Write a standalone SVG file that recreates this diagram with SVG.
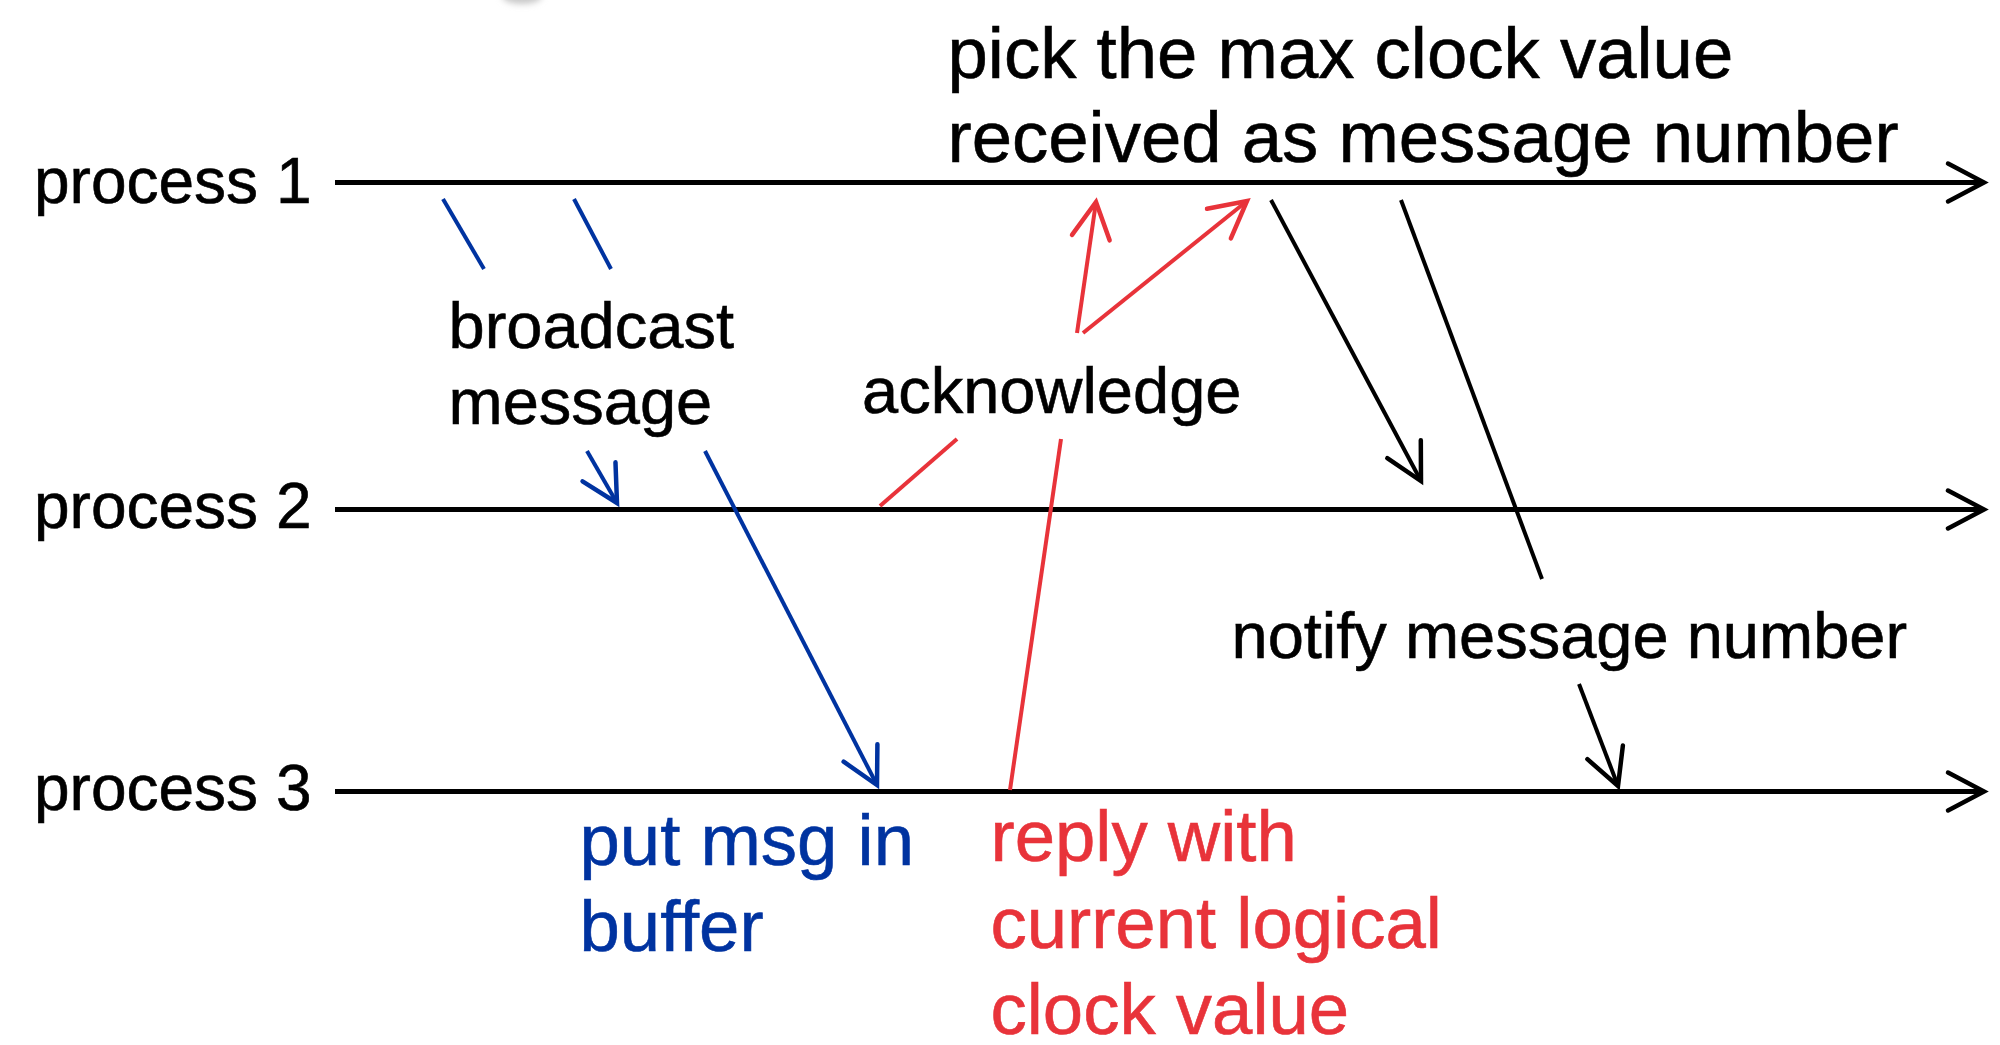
<svg xmlns="http://www.w3.org/2000/svg" width="2000" height="1045" viewBox="0 0 2000 1045">
<style>
text{font-family:"Liberation Sans",Arial,sans-serif;stroke-width:0.6;}
.lbl{font-size:64px;fill:#000;stroke:#000;}
.mid{font-size:65px;}
.big{font-size:72.5px;}
.blk{fill:#000;stroke:#000;}
.blu{fill:#0033A0;stroke:#0033A0;}
.red{fill:#E8333A;stroke:#E8333A;}
.tl{stroke:#000;stroke-width:5;fill:none;}
.cb{stroke:#0033A0;stroke-width:4;fill:none;}
.cr{stroke:#E8333A;stroke-width:4;fill:none;}
.ck{stroke:#000;stroke-width:4;fill:none;}
</style>
<defs>
<filter id="blur" x="-50%" y="-50%" width="200%" height="200%"><feGaussianBlur stdDeviation="3"/></filter>
<marker id="ak" markerUnits="userSpaceOnUse" orient="auto" overflow="visible" markerWidth="1" markerHeight="1" refX="0" refY="0"><path d="M-36,-19 L0,0 L-36,19" fill="none" stroke="#000" stroke-width="4.5" stroke-linecap="round" stroke-linejoin="miter"/></marker>
<marker id="ab" markerUnits="userSpaceOnUse" orient="auto" overflow="visible" markerWidth="1" markerHeight="1" refX="0" refY="0"><path d="M-36,-19 L0,0 L-36,19" fill="none" stroke="#0033A0" stroke-width="4.5" stroke-linecap="round" stroke-linejoin="miter"/></marker>
<marker id="ar" markerUnits="userSpaceOnUse" orient="auto" overflow="visible" markerWidth="1" markerHeight="1" refX="0" refY="0"><path d="M-36,-19 L0,0 L-36,19" fill="none" stroke="#E8333A" stroke-width="4.5" stroke-linecap="round" stroke-linejoin="miter"/></marker>
</defs>
<rect width="2000" height="1045" fill="#fff"/>
<ellipse cx="522" cy="-4" rx="20" ry="8" fill="#c8c8c8" filter="url(#blur)"/>

<g id="process1">
<text class="lbl" x="34" y="203">process 1</text>
<line class="tl" x1="335" y1="182.5" x2="1984" y2="182.5" marker-end="url(#ak)"/>
</g>
<g id="process2">
<text class="lbl" x="34" y="528">process 2</text>
<line class="tl" x1="335" y1="509.5" x2="1984" y2="509.5" marker-end="url(#ak)"/>
</g>
<g id="process3">
<text class="lbl" x="34" y="810">process 3</text>
<line class="tl" x1="335" y1="791.5" x2="1984" y2="791.5" marker-end="url(#ak)"/>
</g>

<g id="label-pick">
<text class="big blk" x="947.5" y="78">pick the max clock value</text>
<text class="big blk" x="947.5" y="162">received as message number</text>
</g>
<g id="label-broadcast">
<text class="lbl mid" x="448.5" y="348">broadcast</text>
<text class="lbl mid" x="448.5" y="424">message</text>
</g>
<g id="label-acknowledge">
<text class="lbl mid" x="862" y="413">acknowledge</text>
</g>
<g id="label-notify">
<text class="lbl mid" x="1231.5" y="658">notify message number</text>
</g>
<g id="label-buffer">
<text class="big blu" x="579.5" y="865">put msg in</text>
<text class="big blu" x="579.5" y="951">buffer</text>
</g>
<g id="label-reply">
<text class="big red" x="990.5" y="861">reply with</text>
<text class="big red" x="990.5" y="948">current logical</text>
<text class="big red" x="990.5" y="1034">clock value</text>
</g>

<g id="connectors">
<line class="cb" x1="443" y1="199" x2="484" y2="269"/>
<line class="cb" x1="587" y1="451" x2="617" y2="503" marker-end="url(#ab)"/>
<line class="cb" x1="574" y1="199" x2="611" y2="269"/>
<line class="cb" x1="705" y1="451" x2="877" y2="785" marker-end="url(#ab)"/>

<line class="cr" x1="880" y1="506" x2="957" y2="439"/>
<line class="cr" x1="1083" y1="333" x2="1247" y2="201" marker-end="url(#ar)"/>
<line class="cr" x1="1010" y1="790" x2="1061" y2="439"/>
<line class="cr" x1="1077" y1="333" x2="1096" y2="202" marker-end="url(#ar)"/>

<line class="ck" x1="1271" y1="200" x2="1421" y2="481" marker-end="url(#ak)"/>
<line class="ck" x1="1401" y1="200" x2="1542" y2="579"/>
<line class="ck" x1="1579" y1="684" x2="1618" y2="786" marker-end="url(#ak)"/>
</g>
</svg>
